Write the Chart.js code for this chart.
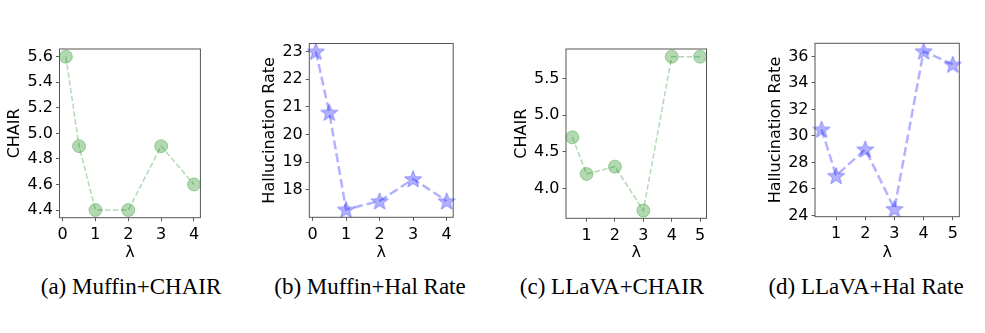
<!DOCTYPE html>
<html>
<head>
<meta charset="utf-8">
<script src="https://cdn.jsdelivr.net/npm/chart.js@4.4.1/dist/chart.umd.min.js"></script>
<style>
  html, body { margin: 0; padding: 0; background: #fff; }
  #wrap { position: relative; width: 985px; height: 333px; overflow: hidden; }
  canvas { position: absolute; top: 0; }
  .cap { position: absolute; top: 274px; width: 260px; text-align: center;
         font-family: "Liberation Serif", "Times New Roman", serif; font-size: 23px; color: #000; }
</style>
</head>
<body>
<div id="wrap"></div>
<script>
// data
const muffinLambda = [0.1, 0.5, 1, 2, 3, 4];
const muffinChair = [5.6, 4.9, 4.4, 4.4, 4.9, 4.6];
const muffinHalRate = [23.0, 20.8, 17.3, 17.6, 18.4, 17.6];

const llavaLambda = [0.5, 1, 2, 3, 4, 5];
const llavaChair = [4.7, 4.2, 4.3, 3.7, 5.8, 5.8];
const llavaHalRate = [30.5, 27.0, 29.0, 24.5, 36.4, 35.4];

const muffinXTicks = [0, 1, 2, 3, 4];
const llavaXTicks = [1, 2, 3, 4, 5];
const muffinChairTicks = [4.4, 4.6, 4.8, 5.0, 5.2, 5.4, 5.6];
const muffinHalTicks = [18, 19, 20, 21, 22, 23];
const llavaChairTicks = [4.0, 4.5, 5.0, 5.5];
const llavaHalTicks = [24, 26, 28, 30, 32, 34, 36];

const captions = ['(a) Muffin+CHAIR', '(b) Muffin+Hal Rate', '(c) LLaVA+CHAIR', '(d) LLaVA+Hal Rate'];

const H = 265;
const tickFont = { family: 'DejaVu Sans', size: 16 };
const green = 'rgba(0,128,0,0.3)';
const blue = 'rgba(0,0,255,0.3)';

// filled five point star used as marker
function starImage(r, fill, edge) {
  const c = document.createElement('canvas');
  const s = Math.ceil(r * 2 + 4);
  c.width = s; c.height = s;
  const g = c.getContext('2d');
  g.translate(s / 2, s / 2 + r * 0.08);
  g.beginPath();
  for (let i = 0; i < 10; i++) {
    const rad = i % 2 === 0 ? r : r * 0.42;
    const a = -Math.PI / 2 + i * Math.PI / 5;
    g.lineTo(rad * Math.cos(a), rad * Math.sin(a));
  }
  g.closePath();
  g.fillStyle = fill;
  g.fill();
  g.strokeStyle = edge;
  g.lineWidth = 1;
  g.stroke();
  return c;
}

const frame = {
  id: 'frame',
  afterDraw(chart) {
    const a = chart.chartArea, ctx = chart.ctx;
    ctx.save();
    ctx.strokeStyle = '#555';
    ctx.lineWidth = 1;
    ctx.strokeRect(a.left, a.top, a.right - a.left, a.bottom - a.top);
    ctx.restore();
  }
};

function pad(arr) {
  const lo = Math.min(...arr), hi = Math.max(...arr), m = (hi - lo) * 0.05;
  return [lo - m, hi + m];
}

const panels = [
  { xs: muffinLambda, ys: muffinChair, xt: muffinXTicks, yt: muffinChairTicks, dec: 1, title: 'CHAIR',
    kind: 'circle', box: [59.5, 49, 200.4, 217.7], titleX: 15, cap: 131 },
  { xs: muffinLambda, ys: muffinHalRate, xt: muffinXTicks, yt: muffinHalTicks, dec: 0, title: 'Hallucination Rate',
    kind: 'star', box: [309.3, 43.5, 453.2, 217.3], titleX: 270, cap: 370 },
  { xs: llavaLambda, ys: llavaChair, xt: llavaXTicks, yt: llavaChairTicks, dec: 1, title: 'CHAIR',
    kind: 'circle', box: [566, 49, 706.5, 218.3], titleX: 521.7, cap: 612 },
  { xs: llavaLambda, ys: llavaHalRate, xt: llavaXTicks, yt: llavaHalTicks, dec: 0, title: 'Hallucination Rate',
    kind: 'star', box: [815, 43.3, 959.3, 216.7], titleX: 776, cap: 866 }
];

const wrap = document.getElementById('wrap');

panels.forEach((p, i) => {
  const [pl, pt, pr, pb] = p.box;
  const left = Math.floor(pl - 58);
  const width = Math.ceil(pr - left + 22);
  const cv = document.createElement('canvas');
  cv.width = width; cv.height = H;
  cv.style.left = left + 'px';
  cv.style.width = width + 'px'; cv.style.height = H + 'px';
  wrap.appendChild(cv);

  const cap = document.createElement('div');
  cap.className = 'cap';
  cap.style.left = (p.cap - 130) + 'px';
  cap.textContent = captions[i];
  wrap.appendChild(cap);

  const [xmin, xmax] = pad(p.xs);
  const [ymin, ymax] = pad(p.ys);
  const isStar = p.kind === 'star';
  const color = isStar ? blue : green;

  const ds = {
    data: p.xs.map((x, k) => ({ x: x, y: p.ys[k] })),
    borderColor: color,
    borderWidth: isStar ? 2.5 : 1.5,
    borderDash: isStar ? [9, 4] : [5.5, 2.4],
    fill: false,
    tension: 0,
    clip: false,
    pointStyle: isStar ? starImage(9, blue, 'rgba(0,0,255,0.35)') : 'circle',
    pointRadius: 6.5,
    pointBackgroundColor: color,
    pointBorderColor: color,
    pointBorderWidth: 1
  };

  new Chart(cv.getContext('2d'), {
    type: 'line',
    data: { datasets: [ds] },
    plugins: [frame],
    options: {
      responsive: false,
      animation: false,
      devicePixelRatio: 1,
      layout: { padding: { left: 0, top: pt, right: left + width - pr, bottom: 0 } },
      plugins: { legend: { display: false }, tooltip: { enabled: false } },
      scales: {
        x: {
          type: 'linear', min: xmin, max: xmax,
          afterBuildTicks: s => { s.ticks = p.xt.map(v => ({ value: v })); },
          afterFit: s => { s.height = H - pb; },
          grid: { drawOnChartArea: false, drawTicks: true, tickLength: 3.5, color: '#333', lineWidth: 0.8 },
          border: { display: false },
          ticks: { font: tickFont, color: '#000', padding: 4, maxRotation: 0, autoSkip: false,
                   callback: v => String(v) },
          title: { display: true, text: 'λ', font: tickFont, color: '#000', padding: { top: 0, bottom: 3 } }
        },
        y: {
          type: 'linear', min: ymin, max: ymax,
          afterBuildTicks: s => { s.ticks = p.yt.map(v => ({ value: v })); },
          afterFit: s => { s.width = pl - left; },
          grid: { drawOnChartArea: false, drawTicks: true, tickLength: 3.5, color: '#333', lineWidth: 0.8 },
          border: { display: false },
          ticks: { font: tickFont, color: '#000', padding: 3, autoSkip: false,
                   callback: v => v.toFixed(p.dec) },
          title: { display: true, text: p.title, font: tickFont, color: '#000',
                   padding: { top: p.titleX - left - 9.6, bottom: 0 } }
        }
      }
    }
  });
});
</script>
</body>
</html>
